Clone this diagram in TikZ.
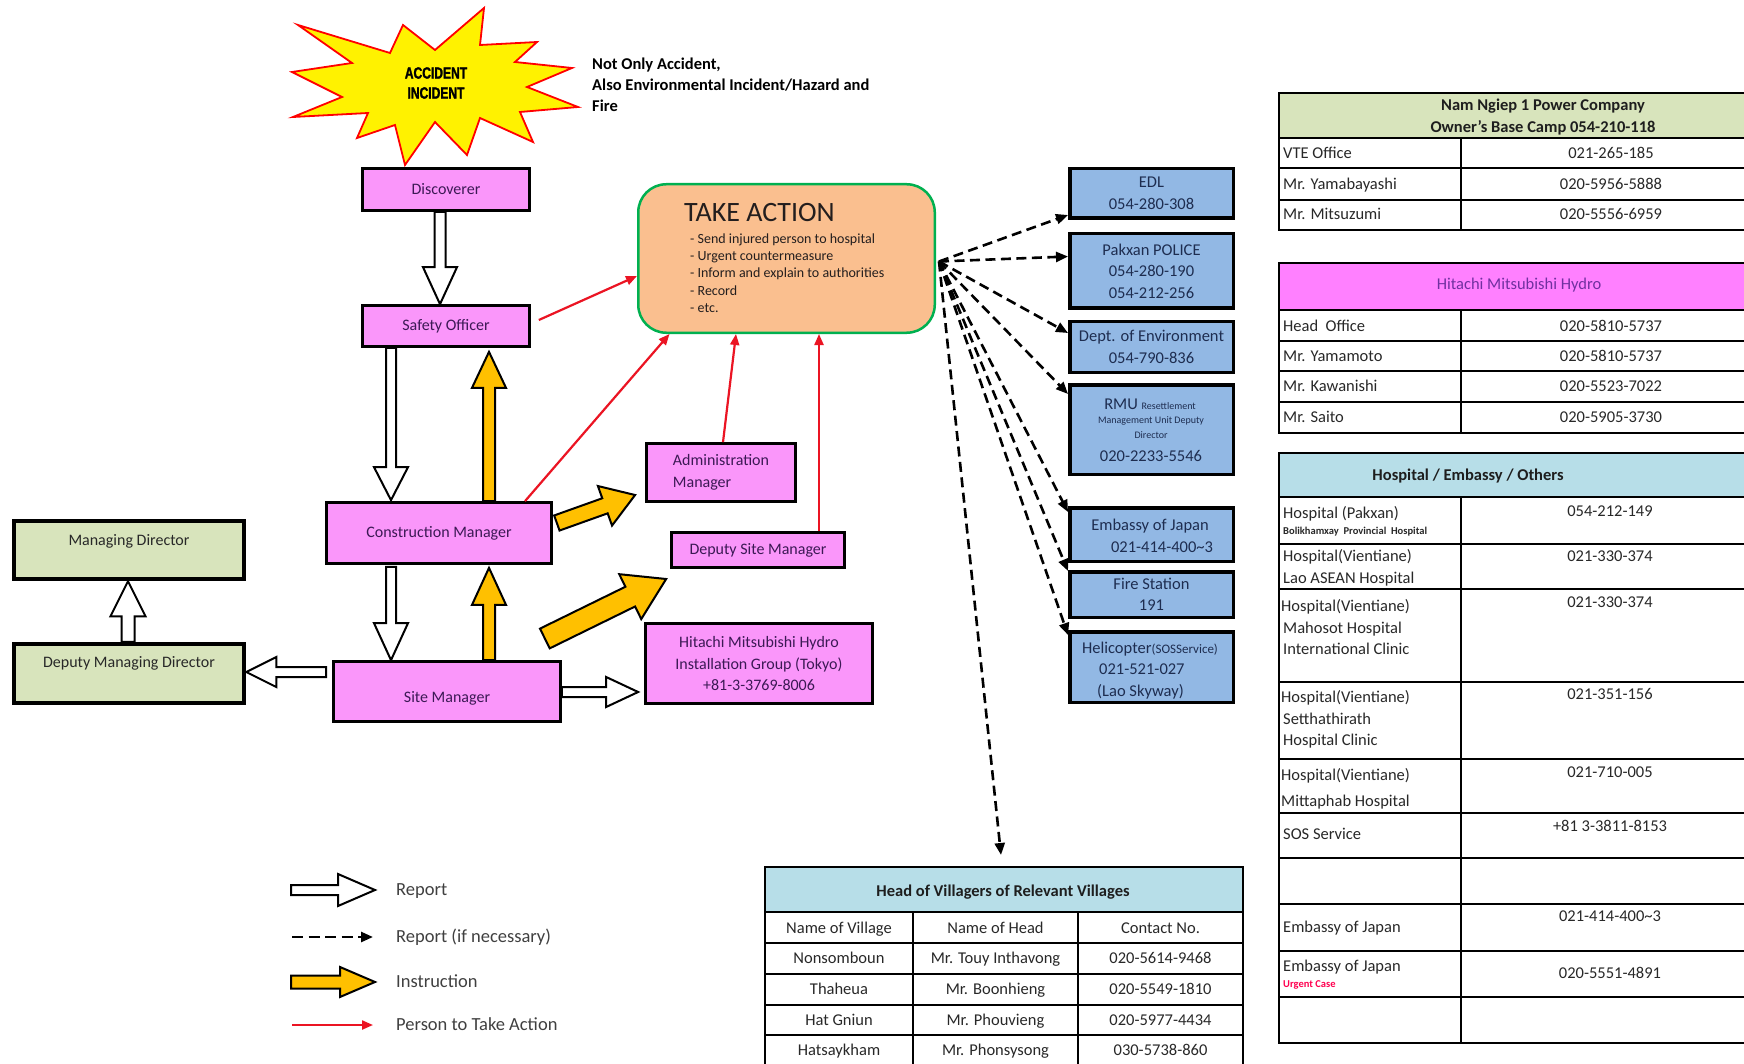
\documentclass[tikz,border=0pt]{standalone}
\usepackage{fontspec}
\setmainfont{Carlito}
\newfontfamily\burstfont[FakeStretch=0.74,FakeBold=1.6]{Liberation Sans Bold}
\usetikzlibrary{calc,arrows.meta}
\definecolor{pinkc}{RGB}{250,150,250}
\definecolor{olivec}{RGB}{216,228,188}
\definecolor{bluec}{RGB}{146,184,228}
\definecolor{peach}{RGB}{250,191,143}
\definecolor{greenb}{RGB}{0,176,80}
\definecolor{goldc}{RGB}{255,192,0}
\definecolor{redc}{RGB}{235,20,35}
\definecolor{boxtxt}{RGB}{60,25,85}
\definecolor{bluetxt}{RGB}{30,45,80}
\definecolor{tabtxt}{RGB}{40,40,40}
\definecolor{lblue}{RGB}{183,222,232}
\definecolor{magc}{RGB}{255,128,255}
\definecolor{purp}{RGB}{112,48,160}
\definecolor{legc}{RGB}{64,64,64}
\definecolor{urgent}{RGB}{255,0,80}
\newcommand\myfs[2]{\fontsize{#1pt}{#2pt}\selectfont}
\newcommand\blockarrow[6]{%
  \path[#1] let \p1=#2, \p2=#3,
    \n1={atan2(\y2-\y1,\x2-\x1)},
    \n2={veclen(\x2-\x1,\y2-\y1)} in
    ([shift={(\p1)},rotate=\n1]0,#4)
    -- ([shift={(\p1)},rotate=\n1]{\n2-#6},#4)
    -- ([shift={(\p1)},rotate=\n1]{\n2-#6},#5)
    -- ([shift={(\p1)},rotate=\n1]\n2,0)
    -- ([shift={(\p1)},rotate=\n1]{\n2-#6},-#5)
    -- ([shift={(\p1)},rotate=\n1]{\n2-#6},-#4)
    -- ([shift={(\p1)},rotate=\n1]0,-#4) -- cycle;}
\tikzset{
 pinkbox/.style={draw=black, line width=3.2pt, fill=pinkc, text=boxtxt, font=\myfs{16}{21.5}, align=center, inner sep=0pt},
 olivebox/.style={draw=black, line width=4.5pt, fill=olivec},
 bluebox/.style={draw=black, line width=3.5pt, fill=bluec, text=bluetxt, font=\myfs{16.5}{21.5}, align=center, inner sep=0pt},
 boxt/.style={text=boxtxt, font=\myfs{16}{20}, inner sep=0pt, text height=10.3pt, text depth=0pt},
 olivet/.style={boxt, text=tabtxt},
 bluet/.style={text=bluetxt, font=\myfs{16.5}{20}, inner sep=0pt, text height=10.6pt, text depth=0pt},
 bluesm/.style={bluet, font=\myfs{10}{12}, text height=6.4pt},
 takebox/.style={draw=greenb, line width=2.5pt, fill=peach, rounded corners=28pt},
 taket/.style={text={rgb,255:red,35;green,30;blue,30}, inner sep=0pt},
 tabl/.style={text=tabtxt, font=\myfs{16.5}{20}, inner sep=0pt, text height=10.6pt, text depth=0pt},
 tabh/.style={tabl, font=\myfs{16.5}{20}\bfseries, text={rgb,255:red,30;green,30;blue,30}},
 tabsm/.style={tabl, font=\myfs{10.5}{12}\bfseries, text height=6.8pt},
 hollow/.style={draw=black, line width=2pt, fill=white, line join=miter},
 instr/.style={draw=black, line width=2pt, fill=goldc, line join=miter},
 redarr/.style={draw=redc, line width=2.2pt, -{Triangle[length=11pt,width=9pt]}},
 dasharr/.style={draw=black, line width=2.6pt, dash pattern=on 10pt off 5.5pt, -{Triangle[length=12pt,width=10pt]}},
 tabline/.style={draw=black, line width=1.6pt},
 legt/.style={text=legc, font=\myfs{18.5}{22}, anchor=west, inner sep=0pt, text height=11.9pt, text depth=0pt},
 notet/.style={text=black, font=\myfs{16.5}{20}\bfseries, anchor=west, inner sep=0pt, text height=10.6pt, text depth=0pt},
}
\begin{document}
\begin{tikzpicture}[x=1pt,y=-1pt]
\useasboundingbox (0,0) rectangle (1744,1064);
\clip (0,0) rectangle (1744,1064);
\fill[white] (0,0) rectangle (1744,1064);

% ---------- starburst ----------
\filldraw[fill=yellow, draw=red, line width=1.8pt, line join=miter]
 (298,25) -- (390,53) -- (403,25) -- (435,50) -- (484,8) -- (480,45) -- (537,42)
 -- (515,62) -- (572,68) -- (527,87) -- (578,107) -- (520,112) -- (533,142)
 -- (480,118) -- (467,155) -- (435,122) -- (405,165) -- (395,125) -- (357,138)
 -- (368,113) -- (293,117) -- (342,97) -- (292,72) -- (352,63) -- cycle;
\node[inner sep=0pt, align=center, font=\burstfont\myfs{16.3}{20}] (burst) at (436,83) {ACCIDENT\\INCIDENT};
\node[notet] (note1) at (592,64) {Not Only Accident,};
\node[notet] (note2) at (592,85) {Also Environmental Incident/Hazard and};
\node[notet] (note3) at (592,106) {Fire};

% ---------- boxes ----------
\node[pinkbox, minimum width=166.5pt, minimum height=41.5pt] (disc) at (446,189.5) {Discoverer};
\node[pinkbox, minimum width=166.5pt, minimum height=40.5pt] (safety) at (446,326) {Safety Officer};
\node[pinkbox, minimum width=224.5pt, minimum height=60.5pt] (constr) at (439,533) {Construction Manager};
\node[pinkbox, minimum width=226.5pt, minimum height=59.5pt] (site) at (447,691.5) {};
\node[boxt] (sitet) at (447,697) {Site Manager};
\node[pinkbox, align=left, minimum width=148.5pt, minimum height=57.5pt] (admin) at (721,472.5) {Administration\\Manager};
\node[pinkbox, minimum width=172.5pt, minimum height=34.5pt] (deputysite) at (758,550) {Deputy Site Manager};
\node[pinkbox, minimum width=226.5pt, minimum height=79.5pt] (hmhig) at (759,663.5) {Hitachi Mitsubishi Hydro\\Installation Group (Tokyo)\\+81-3-3769-8006};
\node[olivebox, minimum width=230pt, minimum height=58pt] (md) at (129,550) {};
\node[olivet] (mdt) at (129,540) {Managing Director};
\node[olivebox, minimum width=230pt, minimum height=59pt] (dmd) at (129,673.5) {};
\node[olivet] (dmdt) at (129,662) {Deputy Managing Director};

\node[takebox, minimum width=296.5pt, minimum height=148.5pt] (take) at (786.5,258.5) {};
\node[taket, anchor=west, font=\myfs{28}{30}, text height=18pt, text depth=0pt] (taket1) at (684,213) {TAKE ACTION};
\node[taket, anchor=west, align=left, font=\myfs{14}{17.3}] (taket2) at (690,273) {- Send injured person to hospital\\- Urgent countermeasure\\- Inform and explain to authorities\\- Record\\- etc.};

\node[bluebox, minimum width=163.5pt, minimum height=49.5pt] (edl) at (1151.5,193.5) {EDL\\054-280-308};
\node[bluebox, minimum width=163.5pt, minimum height=74.5pt] (police) at (1151.5,271) {Pakxan POLICE\\054-280-190\\054-212-256};
\node[bluebox, minimum width=163.5pt, minimum height=50.5pt] (dept) at (1151.5,347) {Dept. of Environment\\054-790-836};
\node[bluebox, minimum width=163.5pt, minimum height=89.5pt] (rmu) at (1151.5,429.5) {};
\node[bluet] (rmu1) at (1150,404) {RMU {\myfs{10}{12}Resettlement}};
\node[bluesm] (rmu2) at (1151,420.5) {Management Unit Deputy};
\node[bluesm] (rmu3) at (1151,435) {Director};
\node[bluet] (rmu4) at (1151,456) {020-2233-5546};
\node[bluebox, minimum width=163.5pt, minimum height=53.5pt] (emb) at (1151.5,534.5) {};
\node[bluet] (emb1) at (1150,525) {Embassy of Japan};
\node[bluet] (emb2) at (1162,547) {021-414-400\textasciitilde 3};
\node[bluebox, minimum width=163.5pt, minimum height=45.5pt] (fire) at (1151.5,594.5) {Fire Station\\191};
\node[bluebox, minimum width=163.5pt, minimum height=70.5pt] (heli) at (1151.5,667) {};
\node[bluet] (heli1) at (1150,648) {Helicopter{\myfs{13}{15}(SOSService)}};
\node[bluet, anchor=west] (heli2) at (1099,669.5) {021-521-027};
\node[bluet, anchor=west] (heli3) at (1097,691) {(Lao Skyway)};

% ---------- block arrows ----------
\blockarrow{hollow}{($(disc.south)+(-6,0)$)}{($(safety.north)+(-6,0)$)}{5.5}{17}{37}
\blockarrow{hollow}{($(safety.south)+(-55,0)$)}{($(constr.north)+(-48,-1)$)}{5}{17}{33}
\blockarrow{instr}{($(constr.north)+(50,0)$)}{($(safety.south)+(43,4)$)}{6}{17}{36}
\blockarrow{hollow}{($(constr.south)+(-48,2)$)}{($(site.north)+(-56,0)$)}{5}{17}{37}
\blockarrow{instr}{($(site.north)+(42,0)$)}{($(constr.south)+(50,3)$)}{6}{17}{37}
\blockarrow{hollow}{($(site.west)+(-6,-19.5)$)}{($(dmd.east)+(0,-1.5)$)}{5}{15}{30}
\blockarrow{hollow}{($(site.east)+(0,0.5)$)}{($(hmhig.west)+(-6,28.5)$)}{5}{15}{32}
\blockarrow{hollow}{($(dmd.north)+(-1,0)$)}{($(md.south)+(-1,0)$)}{6.5}{17.5}{35}
\blockarrow{instr}{($(constr.east)+(4,-10)$)}{($(admin.west)+(-10,22.5)$)}{8}{21}{32}
\blockarrow{instr}{($(site.east)+(-17,-53)$)}{($(deputysite.west)+(-4,29)$)}{11}{25}{40}

% ---------- red arrows ----------
\draw[redarr] ($(safety.east)+(8,-6)$) -- ($(take.west)+(0,17.5)$);
\draw[redarr] ($(constr.north)+(86,0)$) -- ($(take.south)+(-117,0)$);
\draw[redarr] ($(admin.north)+(2,0)$) -- ($(take.south)+(-50.5,0)$);
\draw[redarr] ($(deputysite.north)+(61,0)$) -- ($(take.south)+(32.5,0)$);

% ---------- dashed arrows ----------
\coordinate (ta) at ($(take.east)+(3,3)$);
\coordinate (vtip) at (1001,855);
\draw[dasharr] (ta) -- ($(edl.west)+(0,21.5)$);
\draw[dasharr] (ta) -- ($(police.west)+(0,-14.5)$);
\draw[dasharr] (ta) -- ($(dept.west)+(0,-14)$);
\draw[dasharr] (ta) -- ($(rmu.west)+(0,-35.5)$);
\draw[dasharr] (ta) -- ($(emb.west)+(0,-22.5)$);
\draw[dasharr] (ta) -- ($(fire.west)+(0,-23.5)$);
\draw[dasharr] (ta) -- ($(heli.west)+(0,-32)$);
\draw[dasharr] (ta) -- (vtip);

% ---------- legend ----------
\coordinate (lr1) at (291,890); \coordinate (lr2) at (375,890);
\blockarrow{hollow}{(lr1)}{(lr2)}{5}{16}{37}
\coordinate (ld1) at (292,937); \coordinate (ld2) at (373,937);
\draw[dasharr, dash pattern=on 11pt off 5.5pt] (ld1) -- (ld2);
\coordinate (li1) at (291,982); \coordinate (li2) at (375,982);
\blockarrow{instr}{(li1)}{(li2)}{6.5}{15}{35}
\coordinate (lp1) at (292,1025); \coordinate (lp2) at (373,1025);
\draw[redarr] (lp1) -- (lp2);
\node[legt] (leg1) at (396,890) {Report};
\node[legt] (leg2) at (396,937) {Report (if necessary)};
\node[legt] (leg3) at (396,982) {Instruction};
\node[legt] (leg4) at (396,1025) {Person to Take Action};

% ---------- table: Nam Ngiep ----------
\fill[olivec] (1279,93) rectangle (1760,138);
\draw[tabline] (1760,93) -| (1279,230) -- (1760,230);
\foreach \yy in {138,168,200} \draw[tabline] (1279,\yy) -- (1760,\yy);
\draw[tabline] (1461,138) -- (1461,230);
\node[tabh] (nnh1) at (1543,105) {Nam Ngiep 1 Power Company};
\node[tabh] (nnh2) at (1543,127) {Owner’s Base Camp 054-210-118};
\foreach \yy/\na/\nb [count=\i] in {153/VTE Office/021-265-185, 184/Mr. Yamabayashi/020-5956-5888, 214/Mr. Mitsuzumi/020-5556-6959}{
  \node[tabl, anchor=west] (nnl\i) at (1283,\yy) {\na};
  \node[tabl] (nnr\i) at (1611,\yy) {\nb};
}

% ---------- table: Hitachi ----------
\fill[magc] (1279,263) rectangle (1760,310);
\draw[tabline] (1760,263) -| (1279,433) -- (1760,433);
\foreach \yy in {310,341,371,402} \draw[tabline] (1279,\yy) -- (1760,\yy);
\draw[tabline] (1461,310) -- (1461,433);
\node[tabl, text=purp] (hmh) at (1519,284) {Hitachi Mitsubishi Hydro};
\foreach \yy/\na/\nb [count=\i] in {326/{Head\ \ Office}/020-5810-5737, 356/Mr. Yamamoto/020-5810-5737, 386/Mr. Kawanishi/020-5523-7022, 417/Mr. Saito/020-5905-3730}{
  \node[tabl, anchor=west] (hml\i) at (1283,\yy) {\na};
  \node[tabl] (hmr\i) at (1611,\yy) {\nb};
}

% ---------- table: Hospital ----------
\fill[lblue] (1279,453) rectangle (1760,497);
\draw[tabline] (1760,453) -| (1279,1043) -- (1760,1043);
\foreach \yy in {497,544,589,682,759,813,858,904,951,997} \draw[tabline] (1279,\yy) -- (1760,\yy);
\draw[tabline] (1461,497) -- (1461,1043);
\node[tabh] (hoh) at (1468,475) {Hospital / Embassy / Others};
\foreach \xx/\yy/\tt [count=\i] in {1283/513/Hospital (Pakxan), 1283/556/Hospital(Vientiane), 1283/578/Lao ASEAN Hospital,
  1281/606/Hospital(Vientiane), 1283/628/Mahosot Hospital, 1283/649/International Clinic,
  1281/697/Hospital(Vientiane), 1283/719/Setthathirath, 1283/740/Hospital Clinic,
  1281/775/Hospital(Vientiane), 1281/801/Mittaphab Hospital, 1283/834/SOS Service,
  1283/927/Embassy of Japan, 1283/966/Embassy of Japan}{
  \node[tabl, anchor=west] (hol\i) at (\xx,\yy) {\tt};
}
\node[tabsm, anchor=west] (hosm1) at (1283,531) {Bolikhamxay\ \ Provincial\ \ Hospital};
\node[tabsm, anchor=west, text=urgent] (hosm2) at (1283,984) {Urgent Case};
\foreach \yy/\tt [count=\i] in {511/054-212-149, 556/021-330-374, 602/021-330-374, 694/021-351-156,
  772/021-710-005, 826/+81 3-3811-8153, 916/021-414-400\textasciitilde 3, 973/020-5551-4891}{
  \node[tabl] (hor\i) at (1610,\yy) {\tt};
}

% ---------- table: Villages ----------
\fill[lblue] (765,867) rectangle (1243,912);
\draw[tabline] (765,1070) |- (1243,867) -- (1243,1070);
\foreach \yy in {912,943,974,1005,1035} \draw[tabline] (765,\yy) -- (1243,\yy);
\draw[tabline] (913,912) -- (913,1070);
\draw[tabline] (1078,912) -- (1078,1070);
\node[tabh] (vh) at (1003,891) {Head of Villagers of Relevant Villages};
\foreach \yy/\a/\b/\c [count=\i] in {928/Name of Village/Name of Head/Contact No.,
  958/Nonsomboun/Mr. Touy Inthavong/020-5614-9468,
  989/Thaheua/Mr. Boonhieng/020-5549-1810,
  1020/Hat Gniun/Mr. Phouvieng/020-5977-4434,
  1050/Hatsaykham/Mr. Phonsysong/030-5738-860}{
  \node[tabl] (va\i) at (839,\yy) {\a};
  \node[tabl] (vb\i) at (995.5,\yy) {\b};
  \node[tabl] (vc\i) at (1160.5,\yy) {\c};
}
\end{tikzpicture}
\end{document}
